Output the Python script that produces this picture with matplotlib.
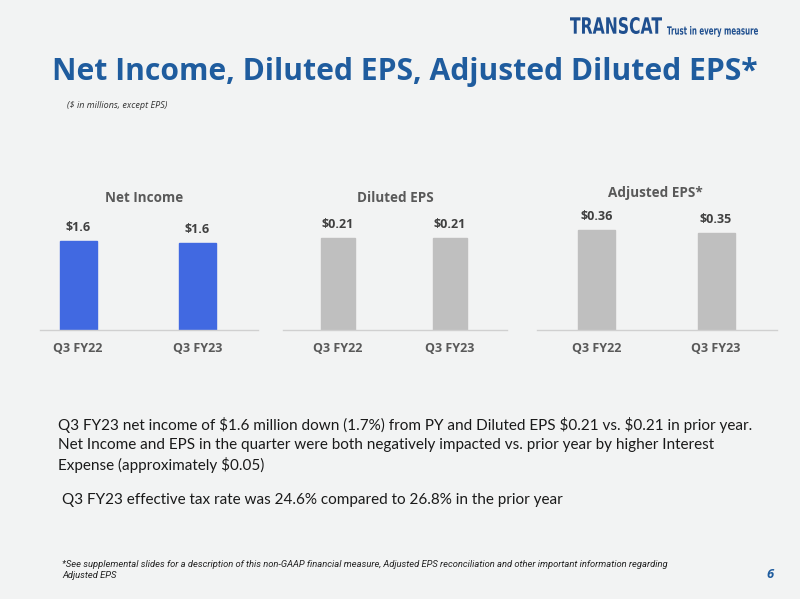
import numpy as np
import matplotlib.pyplot as plt
import matplotlib.transforms as mtransforms
from matplotlib.textpath import TextPath
from matplotlib.patches import PathPatch
from matplotlib.font_manager import FontProperties

# data
periods = ['Q3 FY22', 'Q3 FY23']
net_income = [1.63, 1.60]
net_income_labels = ['$1.6', '$1.6']
diluted_eps = [0.21, 0.21]
diluted_eps_labels = ['$0.21', '$0.21']
adjusted_eps = [0.36, 0.35]
adjusted_eps_labels = ['$0.36', '$0.35']

W, H = 800, 599
bg = '#f2f3f3'
title_blue = '#1f5c9e'
logo_blue = '#1f4f8f'
dark = '#404040'
mid = '#595959'

plt.rcParams['font.family'] = ['Open Sans', 'DejaVu Sans']

fig = plt.figure(figsize=(W / 100, H / 100), dpi=100, facecolor=bg)


def px(x, y):
    return x / W, 1 - y / H


def fs(p):
    # pixel size -> points
    return p * 72 / 100


# panels: left px, right px, xlim, ymax, values, labels, colour, title, title x, title y
panels = [
    (40, 258, (-0.32, 1.51), 2.38, net_income, net_income_labels, '#4169e1', 'Net Income', 144, 198),
    (283, 507, (-0.49, 1.51), 0.297, diluted_eps, diluted_eps_labels, '#bfbfbf', 'Diluted EPS', 395, 198),
    (537, 777, (-0.50, 1.51), 0.468, adjusted_eps, adjusted_eps_labels, '#bfbfbf', 'Adjusted EPS*', 655, 193),
]

base_y = 330
for left, right, xl, ymax, vals, labs, col, ttl, tx, ty in panels:
    x0, y0 = px(left, base_y)
    ax = fig.add_axes([x0, y0, (right - left) / W, 130 / H])
    ax.patch.set_alpha(0)
    x = np.arange(len(periods))
    bars = ax.bar(x, vals, width=0.31, color=col, edgecolor=col)
    ax.set_xlim(*xl)
    ax.set_ylim(0, ymax)
    for b, lab in zip(bars, labs):
        ax.annotate(lab, (b.get_x() + b.get_width() / 2, b.get_height()),
                    xytext=(0, 5), textcoords='offset points', ha='center', va='bottom',
                    fontsize=fs(12.5), fontweight='bold', color=dark)
    ax.set_xticks(x, periods)
    ax.tick_params(axis='x', length=0, pad=9, labelsize=fs(12.5), labelcolor=mid)
    for lab in ax.get_xticklabels():
        lab.set_fontweight('bold')
    ax.set_yticks([])
    for s in ['top', 'left', 'right']:
        ax.spines[s].set_visible(False)
    ax.spines['bottom'].set_color('#d0d0d0')
    ax.spines['bottom'].set_linewidth(1)
    fig.text(*px(tx, ty), ttl, ha='center', va='center', fontsize=fs(13.5),
             fontweight='bold', color=mid)

# title and subtitle
fig.text(*px(52, 72), 'Net Income, Diluted EPS, Adjusted Diluted EPS*', ha='left', va='center',
         fontsize=fs(30), fontweight='bold', color=title_blue)
fig.text(*px(67, 105), '($ in millions, except EPS)', ha='left', va='center',
         fontsize=fs(9), style='italic', color='#333333')

# logo, squeezed text paths on a full-page overlay
lay = fig.add_axes([0, 0, 1, 1], zorder=-1)
lay.set_xlim(0, W)
lay.set_ylim(0, H)
lay.axis('off')


def boxed_text(s, x0, x1, y0, y1, weight='bold'):
    tp = TextPath((0, 0), s, size=1, prop=FontProperties(family='DejaVu Sans', weight=weight))
    bb = tp.get_extents()
    tr = (mtransforms.Affine2D().translate(-bb.x0, -bb.y0)
          .scale((x1 - x0) / bb.width, (y1 - y0) / bb.height)
          .translate(x0, H - y1))
    lay.add_patch(PathPatch(tp, transform=tr + lay.transData, color=logo_blue, lw=0))


boxed_text('TRANSCAT', 570, 662, 17, 34)
boxed_text('Trust in every measure', 667, 758, 26, 37)

# body text
body = ('Q3 FY23 net income of $1.6 million down (1.7%) from PY and Diluted EPS $0.21 vs. $0.21 in prior year.\n'
        'Net Income and EPS in the quarter were both negatively impacted vs. prior year by higher Interest\n'
        'Expense (approximately $0.05)')
fig.text(*px(58, 417), body, ha='left', va='top', fontsize=fs(15.2), color='#1a1a1a',
         linespacing=1.42, family='Lato')
fig.text(*px(62, 500), 'Q3 FY23 effective tax rate was 24.6% compared to 26.8% in the prior year',
         ha='left', va='center', fontsize=fs(15.2), color='#1a1a1a', family='Lato')

# footnote
foot = ('*See supplemental slides for a description of this non-GAAP financial measure, Adjusted EPS reconciliation and other important information regarding\n'
        'Adjusted EPS')
fig.text(*px(62, 560), foot, ha='left', va='top', fontsize=fs(9.35), style='italic',
         color='#222222', linespacing=1.35, family='Roboto')
fig.text(*px(770, 574), '6', ha='center', va='center', fontsize=fs(13),
         fontweight='bold', style='italic', color=title_blue)

fig.savefig('out.png', dpi=100, facecolor=bg)
